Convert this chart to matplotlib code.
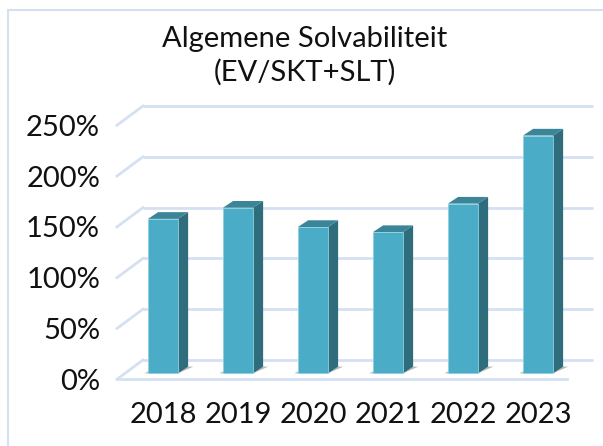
import matplotlib
matplotlib.use("Agg")
import matplotlib.pyplot as plt
from matplotlib.patches import Polygon, Rectangle

plt.rcParams["font.family"] = ["Lato", "DejaVu Sans"]

# data
years = ["2018", "2019", "2020", "2021", "2022", "2023"]
solvency = [152, 163, 144, 139, 167, 234]
y_ticks = [0, 50, 100, 150, 200, 250]
title = "Algemene Solvabiliteit\n(EV/SKT+SLT)"

# colours
FRONT = "#4aacc6"
SIDE = "#2f6d7c"
TOP = "#3a8598"
GRID = "#d5e1f2"
FS = 21

# fake 3d geometry (x in category units, y in percent)
HALF_W = 0.2
DEPTH = (0.135, 6.6)       # bar front -> bar back
BACK = (0.243, 13.1)       # bar front plane -> back wall
FLOOR = (-0.104, -5.9)     # bar front plane -> front edge of floor
WALL_X = (-0.51, 5.49)     # back wall extent, relative to bar centres

fig = plt.figure(figsize=(6.03, 4.46), dpi=100)
ax = fig.add_axes([0, 0, 1, 1])
ax.set_xlim(-163 / 75, 440 / 75)
ax.set_ylim(-(446 - 373.3) / 1.016, 373.3 / 1.016)
ax.axis("off")

# chart border (only top and left visible)
fig.add_artist(Rectangle((8 / 603, -0.1), 1.2, (446 - 10) / 446 + 0.1,
                         transform=fig.transFigure, fill=False,
                         edgecolor=GRID, linewidth=1.5))

# gridlines: back wall plus left floor diagonals
bx0, bx1 = WALL_X[0] + BACK[0], WALL_X[1] + BACK[0]
for v in y_ticks:
    yb = v + BACK[1]
    ax.plot([bx0, bx1], [yb, yb], color=GRID, lw=2, solid_capstyle="butt")
    ax.plot([WALL_X[0] + FLOOR[0], bx0], [v + FLOOR[1], yb], color=GRID, lw=2)
    ax.text(-0.84, v + FLOOR[1], f"{v}%", ha="right", va="center_baseline",
            fontsize=FS, color="#111111")
# front edge of the floor
ax.plot([WALL_X[0] + FLOOR[0], WALL_X[1] + FLOOR[0]], [FLOOR[1], FLOOR[1]],
        color=GRID, lw=2)

dx, dy = DEPTH
for i, (yr, v) in enumerate(zip(years, solvency)):
    x0, x1 = i - HALF_W, i + HALF_W
    # soft shadow on the floor
    ax.add_patch(Polygon([(x0 - 0.05, 0), (x1, 0), (x1 + dx + 0.07, dy),
                          (x0 + dx, dy)],
                         closed=True, facecolor="#333333", alpha=0.35,
                         edgecolor="none", zorder=2))
    ax.add_patch(Polygon([(x1, 0), (x1 + dx, dy), (x1 + dx, v + dy), (x1, v)],
                         closed=True, facecolor=SIDE, edgecolor="none",
                         zorder=3))
    ax.add_patch(Polygon([(x0, v), (x1, v), (x1 + dx, v + dy), (x0 + dx, v + dy)],
                         closed=True, facecolor=TOP, edgecolor="none",
                         zorder=3))
    ax.add_patch(Rectangle((x0, 0), 2 * HALF_W, v, facecolor=FRONT,
                           edgecolor="#8fd0e0", linewidth=0.6, zorder=4))
    ax.text(i, -39, yr, ha="center", va="center_baseline", fontsize=FS,
            color="#111111")

fig.text(305 / 603, 1 - 56 / 446, title, ha="center", va="center",
         fontsize=FS, linespacing=1.3, color="#111111")

fig.savefig("out.png", dpi=100)
